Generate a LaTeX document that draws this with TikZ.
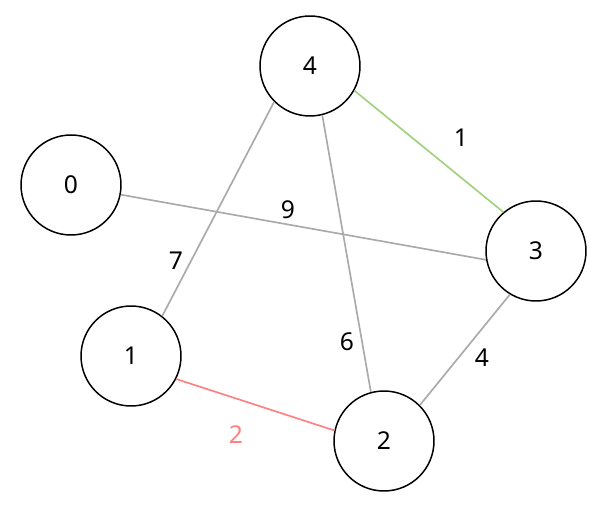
\documentclass[tikz,border=0pt]{standalone}
\usepackage{fontspec}
\setmainfont{Noto Sans}
\usepackage{xcolor}
\definecolor{edgegray}{RGB}{170, 170, 170}
\definecolor{edgegreen}{RGB}{160, 210, 125}
\definecolor{edgered}{RGB}{255, 128, 128}
\usepackage{tikz}
\usetikzlibrary{positioning}

\begin{document}
\begin{tikzpicture}[x=0.02cm, y=-0.02cm,
  vertex/.style={circle, draw=black, line width=0.85pt, fill=white, minimum size=2cm, inner sep=0pt, font=\fontsize{14}{17}\selectfont},
  wlabel/.style={font=\fontsize{14}{17}\selectfont},
  link/.style={line width=0.95pt, edgegray}]

  % canvas
  \useasboundingbox (0, 0) rectangle (605, 506);

  % vertices
  \node[vertex] (v4) at (310, 66) {4};
  \node[vertex] (v0) at (71, 185) {0};
  \node[vertex] (v3) at (536, 251) {3};
  \node[vertex] (v1) at (131, 356) {1};
  \node[vertex] (v2) at (384, 441) {2};

  % weighted edges (ends sit on the rims)
  \draw[link, edgegreen] (v4.331) -- (v3.130);
  \draw[link] (v0.349) -- (v3.190);
  \draw[link] (v4.225) -- (v1.52);
  \draw[link] (v4.284) -- (v2.105);
  \draw[link] (v3.239) -- (v2.45);
  \draw[link, edgered] (v1.333) -- (v2.168);

  % weights
  \node[wlabel] (w43) at (461, 138) {1};
  \node[wlabel] (w03) at (288, 210) {9};
  \node[wlabel] (w41) at (176, 261) {7};
  \node[wlabel] (w42) at (347, 342) {6};
  \node[wlabel] (w32) at (482, 358) {4};
  \node[wlabel, edgered] (w12) at (236, 435) {2};

\end{tikzpicture}
\end{document}
